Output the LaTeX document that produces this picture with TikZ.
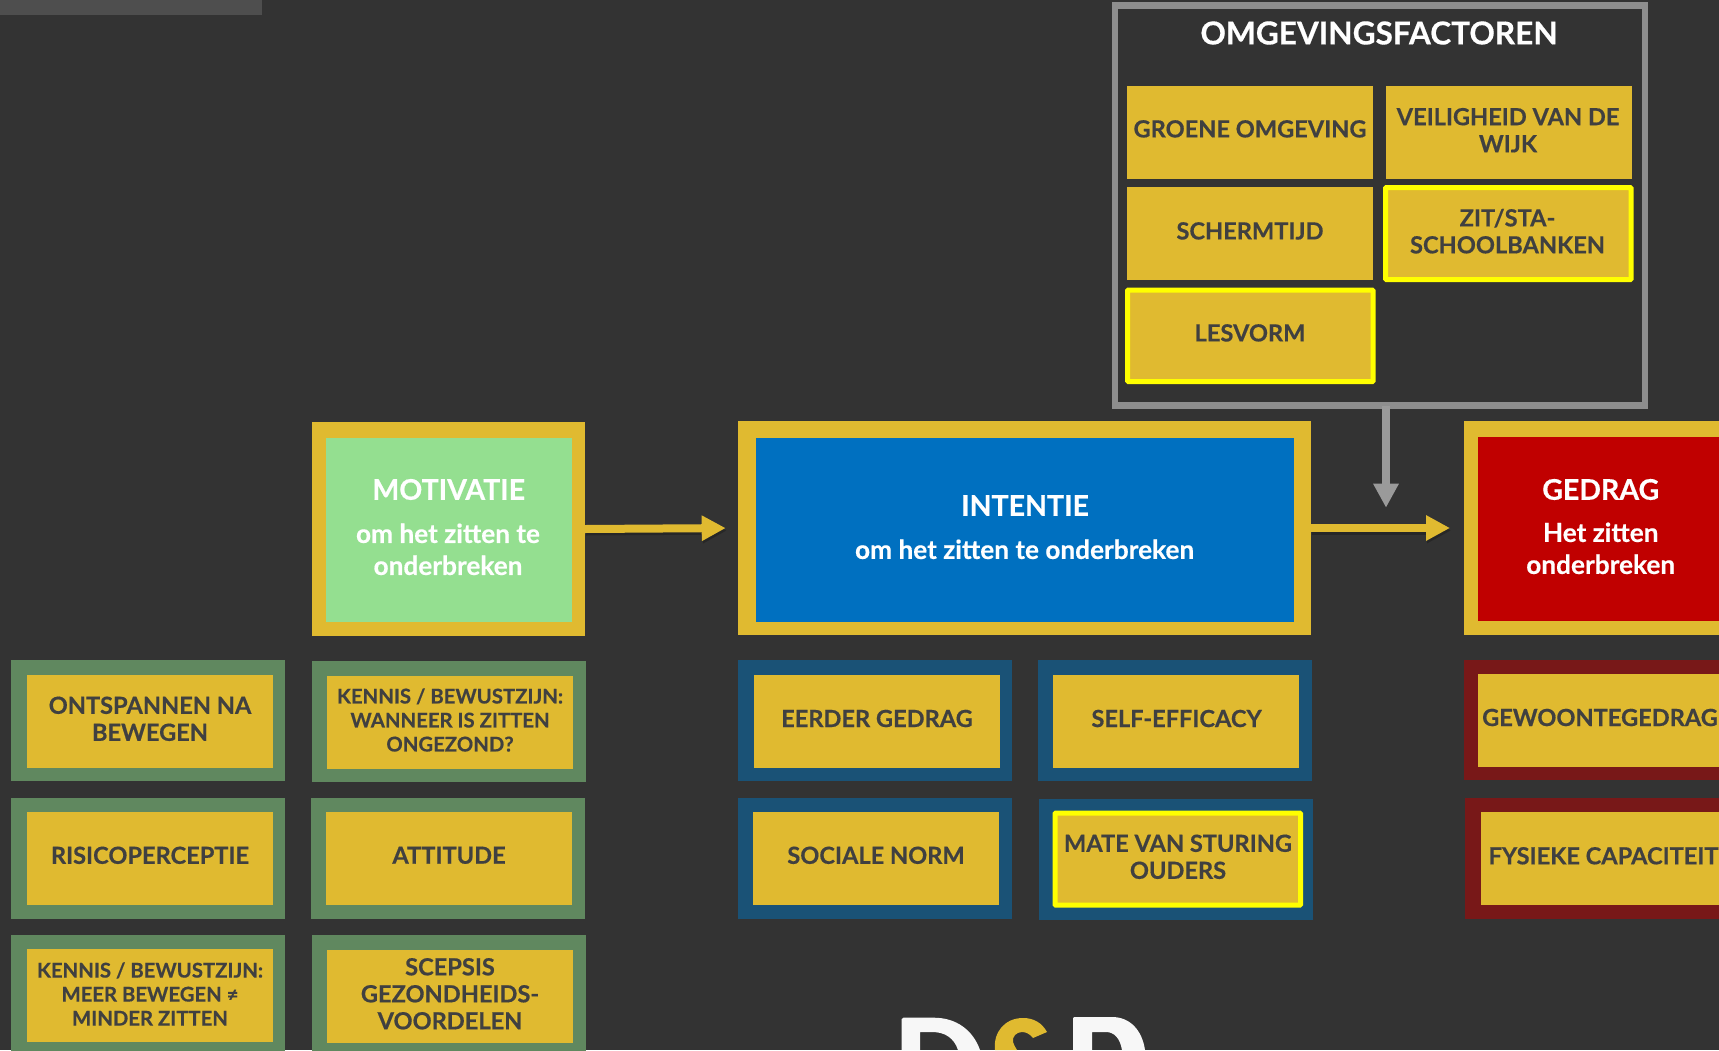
\documentclass[tikz,border=0pt]{standalone}
\usepackage{fontspec}
\setmainfont{Lato}[BoldFeatures={FakeBold=0.45}]
\usetikzlibrary{arrows.meta}
\definecolor{bgc}{HTML}{333333}
\definecolor{stripc}{HTML}{4E4E4E}
\definecolor{gold}{HTML}{E0BA30}
\definecolor{ink}{HTML}{404040}
\definecolor{hlyel}{HTML}{FFFF00}
\definecolor{greenrim}{HTML}{60885F}
\definecolor{bluerim}{HTML}{1A5276}
\definecolor{redrim}{HTML}{781818}
\definecolor{lgreen}{HTML}{94DF90}
\definecolor{mblue}{HTML}{0070C0}
\definecolor{mred}{HTML}{C00000}
\definecolor{framegray}{HTML}{8E8E8E}
\definecolor{arrowgray}{HTML}{9A9A9A}
\newcommand\cardbox[6]{\node[#6,minimum width={(#4)-(#2)},minimum height={(#5)-(#3)}] (#1) at ({(#2+#4)/2},{(#3+#5)/2}) {};}
\tikzset{
  base/.style={rectangle,inner sep=0pt,outer sep=0pt},
  goldbox/.style={base,fill=gold},
  greenframe/.style={base,fill=greenrim},
  blueframe/.style={base,fill=bluerim},
  redframe/.style={base,fill=redrim},
  hlbox/.style={base,fill=gold,draw=hlyel,line width=5pt,rounded corners=0.8pt},
  grayframe/.style={base,draw=framegray,line width=6.5pt},
  lab/.style={text=ink,align=center,inner sep=0pt,yshift=-0.2pt,font=\fontsize{23.6}{27}\selectfont\bfseries},
  labsmall/.style={text=ink,align=center,inner sep=0pt,yshift=-0.4pt,font=\fontsize{20.3}{24}\selectfont\bfseries},
  headline/.style={text=white,align=center,inner sep=0pt,yshift=-0.8pt,font=\fontsize{28.5}{32}\selectfont\bfseries},
  subline/.style={text=white,align=center,inner sep=0pt,yshift=-0.3pt,font=\fontsize{26.2}{32}\selectfont\bfseries},
  goldarrow/.style={draw=gold,line width=8pt,-{Triangle[length=24pt,width=24pt]}},
  grayarrow/.style={draw=arrowgray,line width=8pt,-{Triangle[length=24pt,width=24pt]}},
  shadowarrow/.style={draw=black,opacity=.22,line width=8pt,-{Triangle[length=24pt,width=24pt]}},
}
\begin{document}
\begin{tikzpicture}[x=1pt,y=-1pt]
\useasboundingbox (0,0) rectangle (1719,1050);
\fill[bgc] (0,0) rectangle (1719,1050);
\fill[stripc] (0,0) rectangle (262,15);

% environment frame
\cardbox{omgframe}{1115}{5.5}{1645}{405.5}{grayframe}
\node[text=white,inner sep=0pt,font=\fontsize{31.6}{36}\selectfont\bfseries] (omgtitle) at (1379,33) {OMGEVINGSFACTOREN};
\cardbox{groene}{1127}{86}{1373}{179}{goldbox}
\node[lab] (groenet) at (1250,128.7) {GROENE OMGEVING};
\cardbox{veilig}{1386}{86}{1632}{179}{goldbox}
\node[lab] (veiligt) at (1508,130) {VEILIGHEID VAN DE\\WIJK};
\cardbox{scherm}{1127}{187}{1373}{280}{goldbox}
\node[lab] (schermt) at (1250,230.7) {SCHERMTIJD};
\cardbox{zit}{1385.5}{187.5}{1631}{279.5}{hlbox}
\node[lab] (zitt) at (1507.5,231) {ZIT/STA-\\SCHOOLBANKEN};
\cardbox{lesvorm}{1127.5}{290}{1373}{381.5}{hlbox}
\node[lab] (lesvormt) at (1250,332.7) {LESVORM};

% main boxes
\cardbox{motframe}{312}{422}{585}{636}{goldbox}
\cardbox{motin}{326}{438}{572}{622}{base,fill=lgreen}
\node[headline] (mott) at (448.7,488.7) {MOTIVATIE};
\node[subline] (mots) at (448,549) {om het zitten te\\onderbreken};

\cardbox{intframe}{738}{421}{1311}{635}{goldbox}
\cardbox{intin}{756}{438}{1294}{622}{base,fill=mblue}
\node[headline] (intt) at (1025,504.7) {INTENTIE};
\node[subline] (ints) at (1024.6,549) {om het zitten te onderbreken};

\cardbox{gedframe}{1464}{421}{1719}{635}{goldbox}
\cardbox{gedin}{1478}{437}{1719}{621}{base,fill=mred}
\node[headline] (gedt) at (1600.7,488.7) {GEDRAG};
\node[subline] (geds) at (1600.7,548) {Het zitten\\onderbreken};

% arrows
\coordinate (grayend) at (1386,507.7);
\draw[shadowarrow,shorten >=12.3pt] ([shift={(1,2.5)}]motframe.east) -- ([shift={(1,2.5)}]intframe.west);
\draw[shadowarrow,shorten >=14pt] ([shift={(1,2.5)}]intframe.east) -- ([shift={(1,2.5)}]gedframe.west);
\draw[goldarrow,shorten >=12.3pt] (motframe.east) -- (intframe.west);
\draw[goldarrow,shorten >=14pt] (intframe.east) -- (gedframe.west);
\draw[grayarrow] (omgframe.south -| grayend) -- (grayend);

\begin{scope}[yshift=-0.6pt]
% green column
\cardbox{f1}{11}{659}{285}{780}{greenframe}
\cardbox{b1}{27}{674}{273}{767}{goldbox}
\node[lab] (t1) at (150,718) {ONTSPANNEN NA\\BEWEGEN};
\cardbox{f2}{312}{660}{586}{781}{greenframe}
\cardbox{b2}{327}{675}{573}{768}{goldbox}
\node[labsmall] (t2) at (450,719) {KENNIS / BEWUSTZIJN:\\WANNEER IS ZITTEN\\ONGEZOND?};
\cardbox{f3}{11}{797}{285}{918}{greenframe}
\cardbox{b3}{27}{811}{273}{904}{goldbox}
\node[lab] (t3) at (150,854.5) {RISICOPERCEPTIE};
\cardbox{f4}{311}{797}{585}{918}{greenframe}
\cardbox{b4}{326}{811}{572}{904}{goldbox}
\node[lab] (t4) at (449,854.5) {ATTITUDE};
\cardbox{f5}{11}{934}{285}{1051}{greenframe}
\cardbox{b5}{27}{948}{273}{1041}{goldbox}
\node[labsmall] (t5) at (150,993) {KENNIS / BEWUSTZIJN:\\MEER BEWEGEN ≠\\MINDER ZITTEN};
\cardbox{f6}{312}{934}{586}{1051}{greenframe}
\cardbox{b6}{327}{949}{573}{1042}{goldbox}
\node[lab] (t6) at (450,993) {SCEPSIS\\GEZONDHEIDS-\\VOORDELEN};

% blue block
\cardbox{f7}{738}{659}{1012}{780}{blueframe}
\cardbox{b7}{754}{674}{1000}{767}{goldbox}
\node[lab] (t7) at (877,717.7) {EERDER GEDRAG};
\cardbox{f8}{1038}{659}{1312}{780}{blueframe}
\cardbox{b8}{1053}{674}{1299}{767}{goldbox}
\node[lab] (t8) at (1176.6,717.7) {SELF-EFFICACY};
\cardbox{f9}{738}{797}{1012}{918}{blueframe}
\cardbox{b9}{753}{811}{999}{904}{goldbox}
\node[lab] (t9) at (876,854.5) {SOCIALE NORM};
\cardbox{f10}{1039}{798}{1313}{919}{blueframe}
\cardbox{b10}{1055}{812.5}{1300.5}{904.5}{hlbox}
\node[lab] (t10) at (1178,856) {MATE VAN STURING\\OUDERS};

% red block
\cardbox{f11}{1464}{659}{1719}{779}{redframe}
\cardbox{b11}{1478}{673}{1719}{766}{goldbox}
\node[lab] (t11) at (1600,716.7) {GEWOONTEGEDRAG};
\cardbox{f12}{1465}{797}{1719}{918}{redframe}
\cardbox{b12}{1481}{811}{1719}{904}{goldbox}
\node[lab] (t12) at (1603.5,855) {FYSIEKE CAPACITEIT};
\end{scope}

% logo fragment at the lower edge
\fill[white!97!black] (901.7,1050) -- (901.7,1019) .. controls (901.7,1018) and (902.5,1017.7) .. (903.5,1017.7) -- (934,1017.7) .. controls (956,1017.7) and (973,1030) .. (980,1050) -- (958,1050) .. controls (954,1038) and (945,1032) .. (932,1032) -- (920,1032) -- (920,1050) -- cycle;
\fill[gold] (995,1050) .. controls (993,1032) and (1005,1018) .. (1023,1018) .. controls (1034,1018) and (1042,1023) .. (1047,1032) -- (1033,1038) .. controls (1030,1034) and (1026,1032) .. (1022,1032) .. controls (1016,1032) and (1012,1037) .. (1013,1042) .. controls (1014,1045) and (1015,1047) .. (1017,1050) -- cycle;
\fill[white!97!black] (1073,1050) -- (1073,1018.5) .. controls (1073,1017.5) and (1074,1017) .. (1075,1017) -- (1112,1017) .. controls (1130,1017) and (1142,1030) .. (1145,1050) -- (1122,1050) .. controls (1120,1038) and (1114,1032) .. (1106,1032) -- (1092,1032) -- (1092,1050) -- cycle;
\end{tikzpicture}
\end{document}
